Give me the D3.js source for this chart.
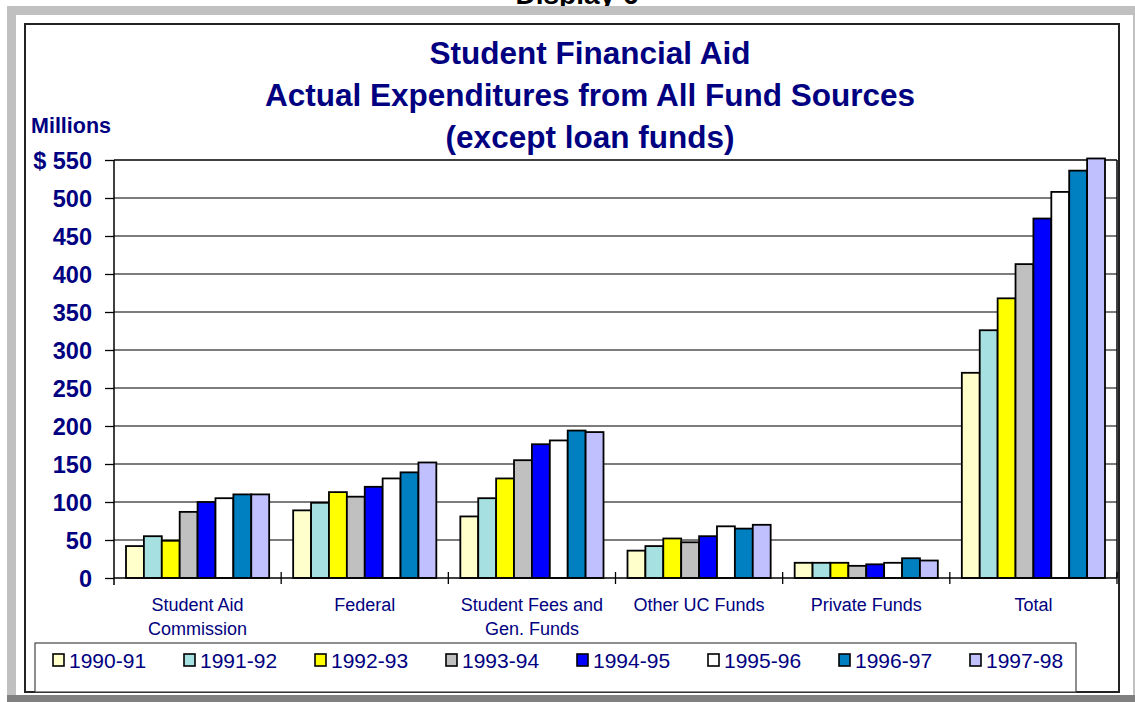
<!DOCTYPE html>
<html>
<head>
<meta charset="utf-8">
<script src="https://cdn.jsdelivr.net/npm/d3@7"></script>
<style>
html,body{margin:0;padding:0;background:#fff;}
svg{display:block;font-family:"Liberation Sans",Arial,sans-serif;}
</style>
</head>
<body>
<svg id="chart" width="1135" height="702"></svg>
<script>
const categories = [["Student Aid","Commission"],["Federal"],["Student Fees and","Gen. Funds"],["Other UC Funds"],["Private Funds"],["Total"]];
const categoryKeys = ["Student Aid Commission","Federal","Student Fees and Gen. Funds","Other UC Funds","Private Funds","Total"];
const years = ["1990-91","1991-92","1992-93","1993-94","1994-95","1995-96","1996-97","1997-98"];
const yearColors = ["#FFFFCC","#A6E0E0","#FFFF00","#C0C0C0","#0000FF","#FFFFFF","#0080C0","#C0C0FF"];
// values in millions, per category, per year
const studentAidCommission = [42, 55, 49, 87, 100, 105, 110, 110];
const federal = [89, 99, 113, 107, 120, 131, 139, 152];
const studentFeesGenFunds = [81, 105, 131, 155, 176, 181, 194, 192];
const otherUCFunds = [36, 42, 52, 47, 55, 68, 65, 70];
const privateFunds = [20, 20, 20, 16, 18, 20, 26, 23];
const total = [270, 326, 368, 413, 473, 508, 536, 552];
const yTicks = [0, 50, 100, 150, 200, 250, 300, 350, 400, 450, 500, 550];
const yTickLabels = ["0","50","100","150","200","250","300","350","400","450","500","$ 550"];
const titleLines = ["Student Financial Aid","Actual Expenditures from All Fund Sources","(except loan funds)"];

const seriesByCategory = [studentAidCommission, federal, studentFeesGenFunds, otherUCFunds, privateFunds, total];
const data = categoryKeys.map((k, i) => ({key: k, label: categories[i], values: years.map((yr, j) => ({year: yr, value: seriesByCategory[i][j], color: yearColors[j]}))}));

const svg = d3.select("#chart");
const NAVY = "#000080";

// Page header (cut off at top, as in the original)
svg.append("text").attr("x", 577).attr("y", 4).attr("text-anchor", "middle")
  .attr("font-size", 28).attr("font-weight", "bold").attr("fill", "#000").text("Display 6");

// Gray frame
svg.append("rect").attr("x", 7).attr("y", 6).attr("width", 1128).attr("height", 9).attr("fill", "#C0C0C0");
svg.append("rect").attr("x", 7).attr("y", 6).attr("width", 9).attr("height", 689).attr("fill", "#C0C0C0");
svg.append("rect").attr("x", 1133).attr("y", 6).attr("width", 2).attr("height", 689).attr("fill", "#C0C0C0");
svg.append("rect").attr("x", 7).attr("y", 695).attr("width", 1128).attr("height", 7).attr("fill", "#808080");

// Chart box
svg.append("rect").attr("x", 25).attr("y", 24).attr("width", 1094).attr("height", 668)
  .attr("fill", "#fff").attr("stroke", "#222").attr("stroke-width", 2);

// Title
svg.append("g").selectAll("text").data(titleLines).join("text")
  .attr("x", 590).attr("y", (d, i) => 64 + i * 42)
  .attr("text-anchor", "middle").attr("font-size", 31.5).attr("font-weight", "bold").attr("fill", NAVY)
  .text(d => d);

svg.append("text").attr("x", 31).attr("y", 133).attr("font-size", 21.5).attr("font-weight", "bold")
  .attr("fill", NAVY).text("Millions");

// Scales
const plot = {left: 114, right: 1117, top: 160, bottom: 578};
const y = d3.scaleLinear().domain([0, 550]).range([plot.bottom, plot.top]);
const x0 = d3.scaleBand().domain(categoryKeys).range([plot.left, plot.right]).padding(0);
const x1 = d3.scaleBand().domain(years).range([12, x0.bandwidth() - 12]).padding(0);

// Gridlines
svg.append("g").selectAll("line").data(yTicks.filter(t => t > 0)).join("line")
  .attr("x1", plot.left).attr("x2", plot.right)
  .attr("y1", d => y(d)).attr("y2", d => y(d))
  .attr("stroke", d => d === 550 ? "#000" : "#505050").attr("stroke-width", d => d === 550 ? 1.6 : 1.3);
// right border
svg.append("line").attr("x1", plot.right).attr("x2", plot.right).attr("y1", plot.top).attr("y2", plot.bottom)
  .attr("stroke", "#000").attr("stroke-width", 1.5);

// Y axis
const yAxis = d3.axisLeft(y).tickValues(yTicks).tickSize(9).tickPadding(13)
  .tickFormat((d, i) => yTickLabels[i]);
const gy = svg.append("g").attr("transform", `translate(${plot.left},0)`).call(yAxis);
gy.select(".domain").remove();
gy.selectAll(".tick line").attr("stroke", "#000").attr("stroke-width", 1.3);
gy.selectAll(".tick text").attr("font-size", 23.5).attr("font-weight", "bold").attr("fill", NAVY)
  .attr("font-family", "Liberation Sans, Arial, sans-serif").attr("dy", "0.36em");
svg.append("line").attr("x1", plot.left).attr("x2", plot.left).attr("y1", plot.top).attr("y2", plot.bottom + 7)
  .attr("stroke", "#000").attr("stroke-width", 1.5);

// Bars
const groups = svg.append("g").selectAll("g").data(data).join("g")
  .attr("transform", d => `translate(${x0(d.key)},0)`);
groups.selectAll("rect").data(d => d.values).join("rect")
  .attr("x", d => x1(d.year)).attr("width", x1.bandwidth())
  .attr("y", d => y(d.value)).attr("height", d => y(0) - y(d.value))
  .attr("fill", d => d.color).attr("stroke", "#000").attr("stroke-width", 1.8);

// X axis
svg.append("line").attr("x1", plot.left).attr("x2", plot.right).attr("y1", plot.bottom).attr("y2", plot.bottom)
  .attr("stroke", "#000").attr("stroke-width", 1.5);
const boundaries = categoryKeys.slice(1).map(k => x0(k)).concat([plot.right]);
svg.append("g").selectAll("line").data(boundaries).join("line")
  .attr("x1", d => d).attr("x2", d => d).attr("y1", plot.bottom - 6).attr("y2", plot.bottom + 6)
  .attr("stroke", "#000").attr("stroke-width", 1.3);

// Category labels
const cl = svg.append("g").selectAll("text").data(data).join("text")
  .attr("x", d => x0(d.key) + x0.bandwidth() / 2).attr("y", 611)
  .attr("text-anchor", "middle").attr("font-size", 18).attr("fill", NAVY);
cl.selectAll("tspan").data(d => d.label).join("tspan")
  .attr("x", function() { return d3.select(this.parentNode).attr("x"); })
  .attr("dy", (d, i) => i === 0 ? 0 : 24).text(d => d);

// Legend
svg.append("rect").attr("x", 35).attr("y", 643).attr("width", 1041).attr("height", 49)
  .attr("fill", "#fff").attr("stroke", "#444").attr("stroke-width", 1.2);
const lx = d3.scaleLinear().domain([0, years.length - 1]).range([53, 970]);
const li = svg.append("g").selectAll("g").data(years).join("g")
  .attr("transform", (d, i) => `translate(${lx(i)},654)`);
li.append("rect").attr("width", 11).attr("height", 12).attr("fill", (d, i) => yearColors[i])
  .attr("stroke", "#000").attr("stroke-width", 1.6);
li.append("text").attr("x", 16).attr("y", 13.5).attr("font-size", 21).attr("fill", NAVY).text(d => d);
</script>
</body>
</html>
